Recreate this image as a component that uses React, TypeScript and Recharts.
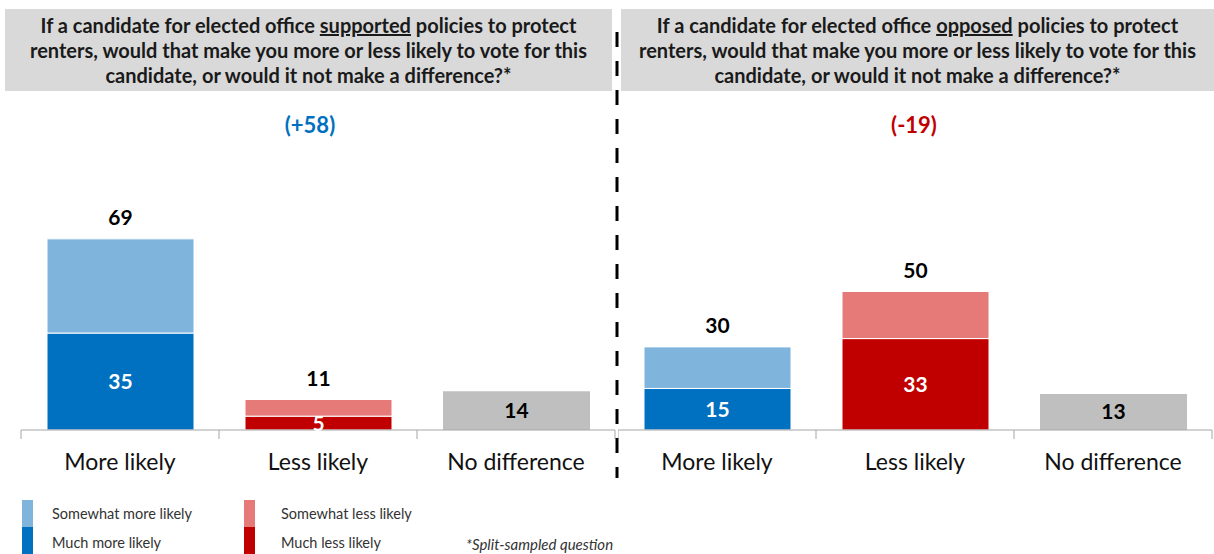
import React from 'react';
import { BarChart, Bar, XAxis, YAxis, Cell, LabelList } from 'recharts';

const categories = ['More likely', 'Less likely', 'No difference'];

// left panel: candidate supported renter protections
const supportedMuch = [35, 5, null];
const supportedSomewhat = [34, 6, null];
const supportedTotal = [69, 11, null];
const supportedNoDiff = [null, null, 14];
const supportedNet = '(+58)';

// right panel: candidate opposed renter protections
const opposedMuch = [15, 33, null];
const opposedSomewhat = [15, 17, null];
const opposedTotal = [30, 50, null];
const opposedNoDiff = [null, null, 13];
const opposedNet = '(-19)';

const legendItems = [
  ['Somewhat more likely', 'Much more likely'],
  ['Somewhat less likely', 'Much less likely'],
];

const DARK = ['#0070C0', '#C00000', '#BFBFBF'];
const LIGHT = ['#7FB4DD', '#E57A78', '#BFBFBF'];
const GREY = '#BFBFBF';
const AXIS = '#A6A6A6';
const FONT = 'Lato, "Liberation Sans", Arial, sans-serif';

const CHART_H = 554;
const PLOT_TOP = 153;
const PLOT_BOTTOM = 430;
const AXIS_H = 60;

const buildRows = (much, somewhat, total, noDiff) =>
  categories.map((name, i) => ({
    name,
    much: much[i],
    somewhat: somewhat[i],
    total: total[i],
    noDiff: noDiff[i],
  }));

function CategoryTick({ x, y, payload, index, half, count }: any) {
  return (
    <g>
      <line x1={x - half} y1={y} x2={x - half} y2={y + 9} stroke={AXIS} strokeWidth={1} />
      {index === count - 1 && (
        <line x1={x + half} y1={y} x2={x + half} y2={y + 9} stroke={AXIS} strokeWidth={1} />
      )}
      <text
        x={x}
        y={y + 40}
        textAnchor="middle"
        fontSize={23}
        fontFamily={FONT}
        fill="#111"
      >
        {payload.value}
      </text>
    </g>
  );
}

function Panel({ left, width, margin, rows }: any) {
  const half = (width - margin.left - margin.right) / categories.length / 2;
  const numStyle = { fontSize: 21, fontWeight: 700, fontFamily: FONT };
  return (
    <div style={{ position: 'absolute', left, top: 0 }}>
      <BarChart width={width} height={CHART_H} data={rows} margin={margin}>
        <YAxis hide domain={[0, 100]} />
        <XAxis
          dataKey="name"
          height={AXIS_H}
          interval={0}
          stroke={AXIS}
          tickLine={false}
          tickSize={0}
          tickMargin={0}
          tick={<CategoryTick half={half} count={categories.length} />}
        />
        <Bar dataKey="much" stackId="a" barSize={147} stroke="#fff" strokeWidth={1} isAnimationActive={false}>
          {rows.map((r, i) => (
            <Cell key={`m-${i}`} fill={DARK[i]} />
          ))}
          <LabelList dataKey="much" position="center" fill="#fff" style={numStyle} />
        </Bar>
        <Bar dataKey="somewhat" stackId="a" barSize={147} stroke="#fff" strokeWidth={1} isAnimationActive={false}>
          {rows.map((r, i) => (
            <Cell key={`s-${i}`} fill={LIGHT[i]} />
          ))}
          <LabelList dataKey="total" position="top" offset={14} fill="#000" style={numStyle} />
        </Bar>
        <Bar dataKey="noDiff" stackId="a" barSize={147} fill={GREY} isAnimationActive={false}>
          <LabelList dataKey="noDiff" position="center" fill="#000" style={numStyle} />
        </Bar>
      </BarChart>
    </div>
  );
}

function Header({ left, width, verb }: any) {
  return (
    <div
      style={{
        position: 'absolute',
        left,
        top: 9,
        width,
        height: 82,
        background: '#D9D9D9',
        display: 'flex',
        alignItems: 'center',
        justifyContent: 'center',
        textAlign: 'center',
        fontFamily: FONT,
        fontWeight: 700,
        fontSize: 20,
        lineHeight: '25px',
        color: '#1a1a1a',
      }}
    >
      <div style={{ whiteSpace: 'nowrap' }}>
        If a candidate for elected office <u>{verb}</u> policies to protect
        <br />
        renters, would that make you more or less likely to vote for this
        <br />
        candidate, or would it not make a difference?*
      </div>
    </div>
  );
}

export default function App() {
  const leftRows = buildRows(supportedMuch, supportedSomewhat, supportedTotal, supportedNoDiff);
  const rightRows = buildRows(opposedMuch, opposedSomewhat, opposedTotal, opposedNoDiff);

  const netStyle: React.CSSProperties = {
    position: 'absolute',
    top: 111,
    width: 200,
    textAlign: 'center',
    fontFamily: FONT,
    fontWeight: 700,
    fontSize: 22,
  };

  const legendText: React.CSSProperties = {
    position: 'absolute',
    fontSize: 14.5,
    color: '#333',
    whiteSpace: 'nowrap',
  };

  return (
    <div
      style={{
        position: 'absolute',
        left: 0,
        top: 0,
        width: 1214,
        height: 554,
        overflow: 'hidden',
        background: '#fff',
        fontFamily: FONT,
      }}
    >
      <Header left={5} width={607} verb="supported" />
      <Header left={621} width={593} verb="opposed" />

      <div style={{ ...netStyle, left: 210, color: '#0070C0' }}>{supportedNet}</div>
      <div style={{ ...netStyle, left: 814, color: '#C00000' }}>{opposedNet}</div>

      <Panel left={0} width={617} margin={{ top: PLOT_TOP, right: 2, left: 21, bottom: CHART_H - PLOT_BOTTOM - AXIS_H }} rows={leftRows} />
      <Panel left={618} width={596} margin={{ top: PLOT_TOP, right: 2, left: 0, bottom: CHART_H - PLOT_BOTTOM - AXIS_H }} rows={rightRows} />

      <svg style={{ position: 'absolute', left: 611, top: 0 }} width={12} height={554}>
        <line x1={6} y1={32} x2={6} y2={478} stroke="#000" strokeWidth={3} strokeDasharray="15 14" />
      </svg>

      {legendItems.map((pair, g) => (
        <div key={g} style={{ position: 'absolute', left: g === 0 ? 22 : 244, top: 500 }}>
          <div style={{ position: 'absolute', left: 0, top: 0, width: 11, height: 27, background: LIGHT[g] }} />
          <div style={{ position: 'absolute', left: 0, top: 27, width: 11, height: 27, background: DARK[g] }} />
          <div style={{ ...legendText, left: g === 0 ? 30 : 37, top: 5 }}>{pair[0]}</div>
          <div style={{ ...legendText, left: g === 0 ? 30 : 37, top: 34 }}>{pair[1]}</div>
        </div>
      ))}
      <div style={{ position: 'absolute', left: 466, top: 535, fontSize: 15, lineHeight: '18px', fontStyle: 'italic', color: '#333', whiteSpace: 'nowrap' }}>
        *Split-sampled question
      </div>
    </div>
  );
}
